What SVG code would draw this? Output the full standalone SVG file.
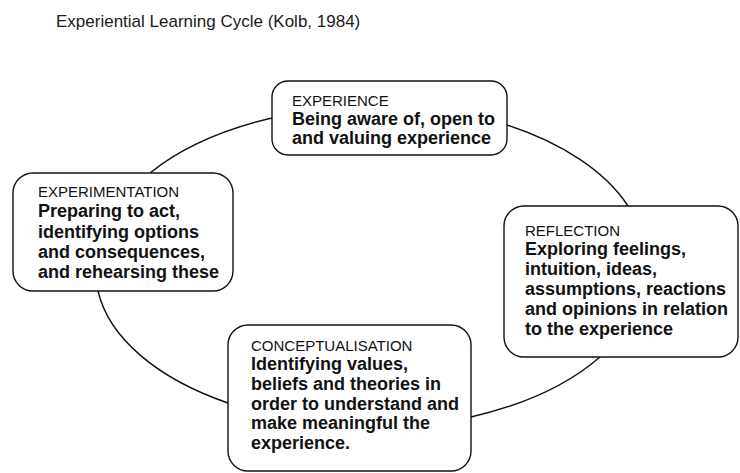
<svg xmlns="http://www.w3.org/2000/svg" width="740" height="473" viewBox="0 0 740 473">
  <style>
    .title { font-family: "Liberation Sans", Arial, sans-serif; font-size: 17px; fill: #1a1a1a; }
    .box { fill: #ffffff; stroke: #111111; stroke-width: 1.4; }
    .head { font-family: "Liberation Sans", Arial, sans-serif; font-size: 15px; fill: #111111; }
    .body { font-family: "Liberation Sans", Arial, sans-serif; font-size: 18px; font-weight: bold; fill: #111111; }
    .arc { fill: none; stroke: #111111; stroke-width: 1.4; }
  </style>
  <rect width="740" height="473" fill="#ffffff"/>

  <text class="title" x="56" y="27">Experiential Learning Cycle (Kolb, 1984)</text>

  <!-- cycle: elliptical arcs running between the stages -->
  <g id="connectors">
    <path class="arc" d="M150,173 A280,155 0 0 1 272,118"/>
    <path class="arc" d="M507,125 A280,155 0 0 1 628,206"/>
    <path class="arc" d="M600,357 A280,155 0 0 1 471,417"/>
    <path class="arc" d="M228,403 A280,155 0 0 1 98,291"/>
  </g>

  <g id="experience">
    <rect class="box" x="272" y="81" width="235" height="74" rx="16"/>
    <text class="head" x="292" y="106">EXPERIENCE</text>
    <text class="body" x="292" y="125">Being aware of, open to</text>
    <text class="body" x="292" y="144">and valuing experience</text>
  </g>

  <g id="experimentation">
    <rect class="box" x="13" y="173" width="220" height="118" rx="20"/>
    <text class="head" x="38" y="197">EXPERIMENTATION</text>
    <text class="body" x="38" y="217">Preparing to act,</text>
    <text class="body" x="38" y="238">identifying options</text>
    <text class="body" x="38" y="258">and consequences,</text>
    <text class="body" x="38" y="278">and rehearsing these</text>
  </g>

  <g id="reflection">
    <rect class="box" x="504" y="206" width="234" height="151" rx="20"/>
    <text class="head" x="525" y="236">REFLECTION</text>
    <text class="body" x="525" y="255">Exploring feelings,</text>
    <text class="body" x="525" y="275">intuition, ideas,</text>
    <text class="body" x="525" y="295">assumptions, reactions</text>
    <text class="body" x="525" y="315">and opinions in relation</text>
    <text class="body" x="525" y="335">to the experience</text>
  </g>

  <g id="conceptualisation">
    <rect class="box" x="228" y="325" width="243" height="146" rx="20"/>
    <text class="head" x="251" y="351">CONCEPTUALISATION</text>
    <text class="body" x="251" y="370">Identifying values,</text>
    <text class="body" x="251" y="390">beliefs and theories in</text>
    <text class="body" x="251" y="410">order to understand and</text>
    <text class="body" x="251" y="429">make meaningful the</text>
    <text class="body" x="251" y="449">experience.</text>
  </g>
</svg>
